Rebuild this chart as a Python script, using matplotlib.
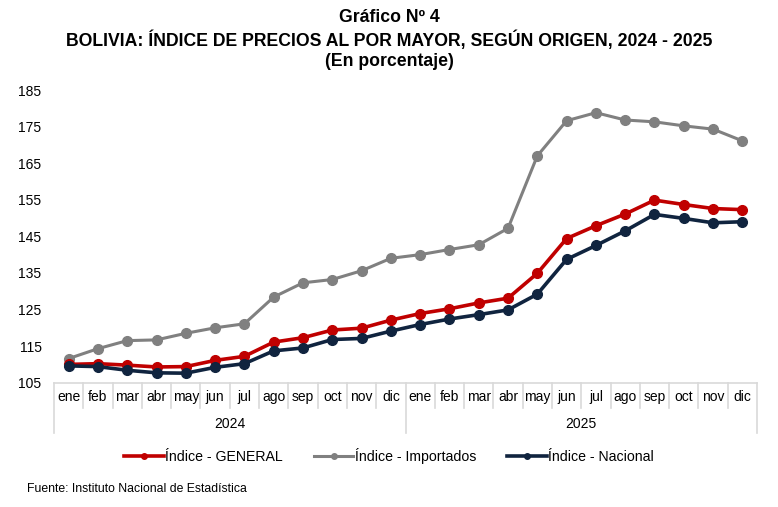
import numpy as np
import matplotlib
matplotlib.use("Agg")
import matplotlib.pyplot as plt
from matplotlib.lines import Line2D

plt.rcParams['font.family'] = ['Liberation Sans', 'DejaVu Sans']

# datos
meses = ["ene", "feb", "mar", "abr", "may", "jun", "jul", "ago", "sep", "oct", "nov", "dic"] * 2
anios = ["2024", "2025"]
general = [110.0, 110.2, 109.8, 109.3, 109.4, 111.1, 112.2, 116.1, 117.3, 119.4, 119.9, 122.1,
           123.9, 125.2, 126.8, 128.1, 134.9, 144.4, 147.9, 151.1, 154.9, 153.7, 152.6, 152.3]
importados = [111.6, 114.3, 116.5, 116.7, 118.5, 120.0, 121.1, 128.4, 132.3, 133.2, 135.6, 139.0,
              140.0, 141.4, 142.7, 147.2, 167.0, 176.6, 178.8, 176.8, 176.3, 175.2, 174.3, 171.1]
nacional = [109.6, 109.4, 108.4, 107.7, 107.6, 109.2, 110.2, 113.7, 114.5, 116.8, 117.1, 119.1,
            120.9, 122.4, 123.6, 124.9, 129.2, 138.7, 142.5, 146.5, 151.0, 149.9, 148.7, 149.0]
yticks = [105, 115, 125, 135, 145, 155, 165, 175, 185]

fig = plt.figure(figsize=(7.78, 5.07), dpi=100)
ax = fig.add_axes([54/778, 1 - 382.7/507, 703/778, 292.7/507])

X = np.arange(len(meses))
ax.plot(X, general, color="#C00000", lw=2.6, marker="o", ms=7, label="Índice - GENERAL", zorder=3)
ax.plot(X, importados, color="#808080", lw=2.2, marker="o", ms=7, label="Índice - Importados", zorder=2)
ax.plot(X, nacional, color="#10243F", lw=2.6, marker="o", ms=7, label="Índice - Nacional", zorder=4)

ax.set_xlim(-0.5, len(meses) - 0.5)
ax.set_ylim(105, 185)
ax.set_yticks(yticks)
ax.tick_params(axis="y", length=0, pad=9, labelsize=10)
ax.set_xticks([])
for s in ["top", "right", "left"]:
    ax.spines[s].set_visible(False)
ax.spines["bottom"].set_color("#d9d9d9")
ax.spines["bottom"].set_linewidth(1.2)

# separadores de meses y anios
trans = ax.get_xaxis_transform()
for i in range(len(meses) + 1):
    largo = -0.171 if i % 12 == 0 else -0.0854
    ax.plot([i - 0.5, i - 0.5], [0, largo], transform=trans, color="#d9d9d9", lw=1.2, clip_on=False)
for i, m in enumerate(meses):
    ax.text(i, -0.05, m, transform=trans, ha="center", va="center", fontsize=10)
for k, a in enumerate(anios):
    ax.text(5.5 + 12 * k, -0.142, a, transform=trans, ha="center", va="center", fontsize=10)

fig.text(0.5, 1 - 18/507, "Gráfico Nº 4", ha="center", va="center", fontsize=12.7, fontweight="bold")
fig.text(0.5, 1 - 40/507, "BOLIVIA: ÍNDICE DE PRECIOS AL POR MAYOR, SEGÚN ORIGEN, 2024 - 2025",
         ha="center", va="center", fontsize=12.7, fontweight="bold")
fig.text(0.5, 1 - 61/507, "(En porcentaje)", ha="center", va="center", fontsize=12.7, fontweight="bold")

handles = [Line2D([], [], color="#C00000", lw=2.6, marker="o", ms=4),
           Line2D([], [], color="#808080", lw=2.2, marker="o", ms=4),
           Line2D([], [], color="#10243F", lw=2.6, marker="o", ms=4)]
fig.legend(handles, ["Índice - GENERAL", "Índice - Importados", "Índice - Nacional"],
           loc="center", bbox_to_anchor=(0.5, 1 - 456/507), ncol=3, frameon=False,
           fontsize=10.2, handlelength=2.8, handletextpad=0.1, columnspacing=2.2)

fig.text(27/778, 1 - 489/507, "Fuente: Instituto Nacional de Estadística", ha="left", va="center", fontsize=8.8)

fig.savefig("out.png", dpi=100)
